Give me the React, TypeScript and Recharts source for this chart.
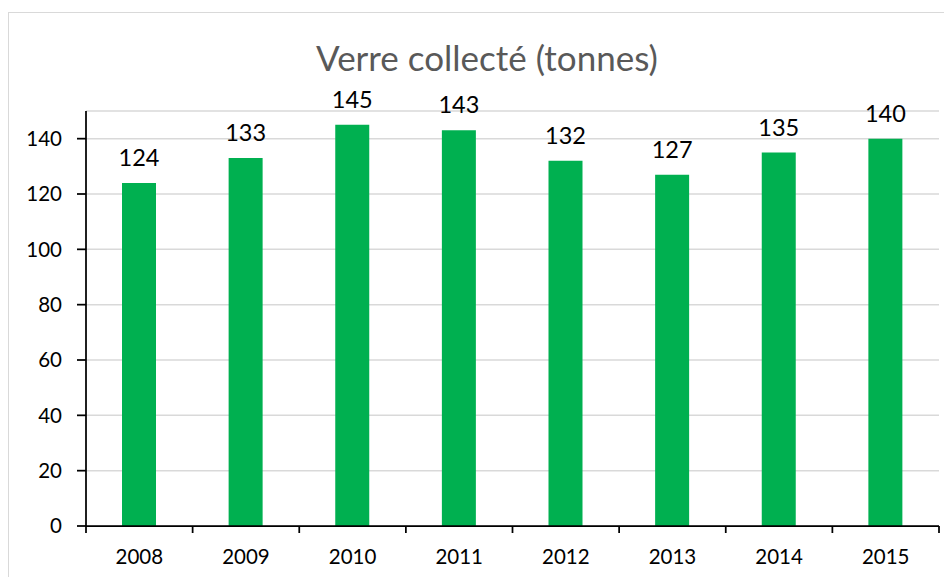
import React from 'react';
import { BarChart, Bar, XAxis, YAxis, CartesianGrid, LabelList } from 'recharts';

const years = ['2008', '2009', '2010', '2011', '2012', '2013', '2014', '2015'];
const tonnes = [124, 133, 145, 143, 132, 127, 135, 140];
const yTicks = [0, 20, 40, 60, 80, 100, 120, 140];
const title = 'Verre collecté (tonnes)';

const data = years.map((year, i) => ({ year, value: tonnes[i] }));

const W = 943;
const H = 564;
const margin = { top: 98, right: 13, bottom: 0, left: 0 };
const yAxisWidth = 77;
const plotW = W - margin.left - margin.right - yAxisWidth;
const band = plotW / years.length;
const FONT = 'Lato, "Open Sans", sans-serif';

function XTick(props: any) {
  const { x, y, payload, index } = props;
  return (
    <g>
      <line x1={x - band / 2} x2={x - band / 2} y1={y} y2={y + 7} stroke="#000" strokeWidth={1.75} />
      {index === years.length - 1 && (
        <line x1={x + band / 2} x2={x + band / 2} y1={y} y2={y + 7} stroke="#000" strokeWidth={1.75} />
      )}
      <text x={x} y={y + 38} textAnchor="middle" fontSize={20.5} fill="#000" fontFamily={FONT}>
        {payload.value}
      </text>
    </g>
  );
}

export default function App() {
  return (
    <div
      style={{
        marginTop: 4,
        width: W,
        height: H,
        borderTop: '1px solid #d9d9d9',
        borderLeft: '1px solid #d9d9d9',
        position: 'relative',
        fontFamily: FONT,
      }}
    >
      <div
        style={{
          position: 'absolute',
          left: 478,
          top: 27,
          transform: 'translateX(-50%)',
          whiteSpace: 'nowrap',
          fontSize: 35,
          lineHeight: '35px',
          color: '#595959',
          fontFamily: FONT,
        }}
      >
        {title}
      </div>
      <BarChart width={W} height={H} data={data} margin={margin}>
        <CartesianGrid horizontal vertical={false} stroke="#d9d9d9" strokeWidth={1.5} />
        <XAxis
          dataKey="year"
          interval={0}
          height={51}
          tickSize={0}
          tickMargin={0}
          tickLine={false}
          axisLine={{ stroke: '#000', strokeWidth: 1.75 }}
          tick={<XTick />}
        />
        <YAxis
          width={yAxisWidth}
          domain={[0, 150]}
          ticks={yTicks}
          interval={0}
          tickSize={9}
          tickMargin={15}
          stroke="#000"
          axisLine={{ stroke: '#000', strokeWidth: 1.75 }}
          tickLine={{ stroke: '#000', strokeWidth: 1.75 }}
          tick={{ fill: '#000', fontSize: 20.5, fontFamily: FONT }}
        />
        <Bar dataKey="value" fill="#00B050" barSize={34} isAnimationActive={false}>
          <LabelList dataKey="value" position="top" offset={17} fill="#000" fontSize={23.5} fontFamily={FONT} />
        </Bar>
      </BarChart>
    </div>
  );
}
